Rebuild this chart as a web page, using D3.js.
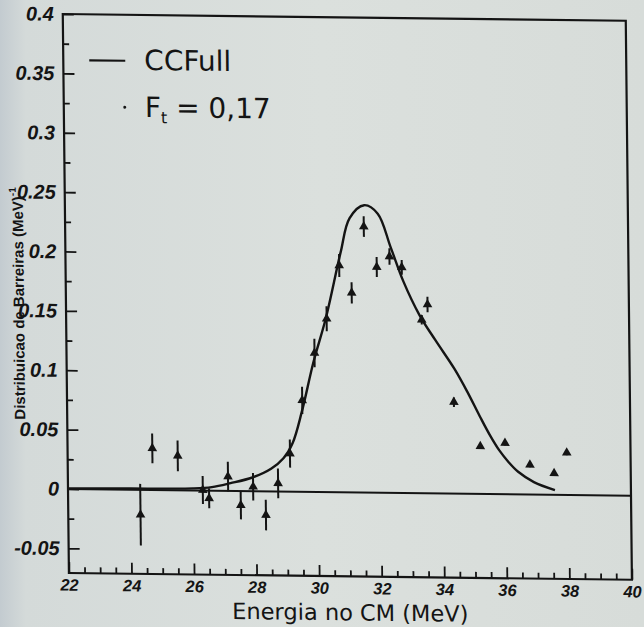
<!DOCTYPE html>
<html>
<head>
<meta charset="utf-8">
<script src="https://cdn.jsdelivr.net/npm/d3@7"></script>
<style>
  html, body { margin: 0; padding: 0; background: #d8dedb; }
  svg { display: block; }
</style>
</head>
<body>
<svg id="chart" width="644" height="627"></svg>
<script>
// Measured barrier distribution (energy in MeV, D(E) in MeV^-1, error)
const energy = [24.31, 24.71, 25.52, 26.31, 26.51, 27.12, 27.52, 27.92, 28.32, 28.72,
                29.11, 29.52, 29.93, 30.33, 30.75, 31.14, 31.55, 31.95, 32.36, 32.75,
                33.37, 33.56, 34.37, 35.20, 35.99, 36.78, 37.55, 37.96];
const dist   = [-0.021, 0.035, 0.029, 0.0004, -0.0065, 0.012, -0.012, 0.0037, -0.020, 0.0068,
                0.032, 0.077, 0.117, 0.146, 0.191, 0.168, 0.224, 0.190, 0.199, 0.190,
                0.146, 0.159, 0.077, 0.040, 0.043, 0.025, 0.018, 0.0355];
const distErr = [0.026, 0.0126, 0.0129, 0.0118, 0.0084, 0.0126, 0.0119, 0.0116, 0.0129, 0.0126,
                 0.0118, 0.0115, 0.012, 0.0105, 0.0097, 0.009, 0.0087, 0.0084, 0.007, 0.0063,
                 0.004, 0.0066, 0.004, 0.002, 0.002, 0.002, 0.002, 0.002];

// CCFull calculation (F_t = 0,17)
const ccfullE = [22, 23, 24, 25, 26, 26.6, 27.2, 27.9, 28.5, 28.9, 29.2, 29.5, 29.9, 30.3,
                 30.8, 31.1, 31.57, 32.0, 32.4, 32.8, 33.3, 33.8, 34.4, 34.8, 35.2, 35.5,
                 35.8, 36.1, 36.4, 36.9, 37.57];
const ccfullD = [0.0005, 0.0007, 0.001, 0.0012, 0.0017, 0.003, 0.0065, 0.0115, 0.019, 0.028,
                 0.041, 0.067, 0.11, 0.146, 0.202, 0.231, 0.242, 0.235, 0.207, 0.178, 0.150,
                 0.129, 0.105, 0.086, 0.065, 0.050, 0.037, 0.027, 0.019, 0.0105, 0.004];

// Axis ticks
const xTicks = [22, 24, 26, 28, 30, 32, 34, 36, 38, 40];
const yTicks = [-0.05, 0, 0.05, 0.1, 0.15, 0.2, 0.25, 0.3, 0.35, 0.4];
const yTickLabels = ["-0.05", "0", "0.05", "0.1", "0.15", "0.2", "0.25", "0.3", "0.35", "0.4"];

const svg = d3.select("#chart");
const ink = "#141414";

// paper tone, a little darker toward the left edge
const grad = svg.append("defs").append("linearGradient")
  .attr("id", "paper").attr("x1", 0).attr("x2", 1).attr("y1", 0).attr("y2", 0);
grad.append("stop").attr("offset", "0").attr("stop-color", "#c3cbd0");
grad.append("stop").attr("offset", "0.04").attr("stop-color", "#d4dad9");
grad.append("stop").attr("offset", "0.5").attr("stop-color", "#dbe0dd");
grad.append("stop").attr("offset", "1").attr("stop-color", "#d7dcd9");
svg.append("rect").attr("width", 644).attr("height", 627).attr("fill", "url(#paper)");

// the printed page is slightly skewed
const g = svg.append("g")
  .attr("transform", "matrix(1,0.012,0.011,1,-5.379,-0.816)");

const x = d3.scaleLinear().domain([22, 40]).range([68, 631]);
const y = d3.scaleLinear().domain([-0.0708, 0.4]).range([573, 14]);

const tickFont = "'Liberation Sans Narrow', 'Liberation Sans', Arial, sans-serif";

// minor ticks
const xMinor = d3.range(22, 40.001, 0.5).filter(v => !xTicks.includes(v));
const yMinor = d3.range(-0.05, 0.4001, 0.025).map(v => +v.toFixed(3))
  .filter(v => !yTicks.some(t => Math.abs(t - v) < 1e-9));

g.append("g")
  .attr("transform", `translate(0,${y(-0.0708)})`)
  .call(d3.axisBottom(x).tickValues(xMinor).tickSizeInner(-6).tickSizeOuter(0).tickFormat(""))
  .call(a => a.select(".domain").remove())
  .call(a => a.selectAll("line").attr("stroke", ink).attr("stroke-width", 1.8));

g.append("g")
  .attr("transform", `translate(${x(22)},0)`)
  .call(d3.axisLeft(y).tickValues(yMinor).tickSizeInner(-6).tickSizeOuter(0).tickFormat(""))
  .call(a => a.select(".domain").remove())
  .call(a => a.selectAll("line").attr("stroke", ink).attr("stroke-width", 1.8));

// major ticks with labels
g.append("g")
  .attr("transform", `translate(0,${y(-0.0708)})`)
  .call(d3.axisBottom(x).tickValues(xTicks).tickSizeInner(-11).tickSizeOuter(0)
        .tickPadding(6).tickFormat(d => String(d)))
  .call(a => a.select(".domain").remove())
  .call(a => a.selectAll("line").attr("stroke", ink).attr("stroke-width", 1.8))
  .call(a => a.selectAll("text")
      .attr("fill", ink)
      .attr("font-family", tickFont)
      .attr("font-style", "italic")
      .attr("font-weight", "bold")
      .attr("font-size", 16.5));

g.append("g")
  .attr("transform", `translate(${x(22)},0)`)
  .call(d3.axisLeft(y).tickValues(yTicks).tickSizeInner(-11).tickSizeOuter(0)
        .tickPadding(9).tickFormat((d, i) => yTickLabels[i]))
  .call(a => a.select(".domain").remove())
  .call(a => a.selectAll("line").attr("stroke", ink).attr("stroke-width", 1.8))
  .call(a => a.selectAll("text")
      .attr("fill", ink)
      .attr("font-family", tickFont)
      .attr("font-style", "italic")
      .attr("font-weight", "bold")
      .attr("font-size", 20));

// zero line
g.append("line")
  .attr("x1", x(22)).attr("x2", x(40))
  .attr("y1", y(0)).attr("y2", y(0))
  .attr("stroke", ink).attr("stroke-width", 2);

// CCFull curve
const line = d3.line()
  .x((d, i) => x(ccfullE[i]))
  .y(d => y(d))
  .curve(d3.curveCatmullRom.alpha(0.5));

g.append("path")
  .datum(ccfullD)
  .attr("d", line)
  .attr("fill", "none")
  .attr("stroke", ink)
  .attr("stroke-width", 2.4);

// error bars
const pts = energy.map((e, i) => ({ e, d: dist[i], s: distErr[i] }));
g.append("g").selectAll("line")
  .data(pts)
  .join("line")
  .attr("x1", p => x(p.e)).attr("x2", p => x(p.e))
  .attr("y1", p => y(p.d - p.s)).attr("y2", p => y(p.d + p.s))
  .attr("stroke", ink).attr("stroke-width", 2);

// triangle markers
const tri = d3.symbol().type(d3.symbolTriangle).size(40);
g.append("g").selectAll("path")
  .data(pts)
  .join("path")
  .attr("d", tri)
  .attr("transform", p => `translate(${x(p.e)},${y(p.d)})`)
  .attr("fill", ink);

// frame
g.append("rect")
  .attr("x", x(22)).attr("y", y(0.4))
  .attr("width", x(40) - x(22)).attr("height", y(-0.0708) - y(0.4))
  .attr("fill", "none").attr("stroke", ink).attr("stroke-width", 2.2);

// legend
const legendFont = "'DejaVu Sans', 'Liberation Sans', sans-serif";
g.append("line")
  .attr("x1", 94).attr("x2", 130).attr("y1", 60).attr("y2", 60)
  .attr("stroke", ink).attr("stroke-width", 2.2);
g.append("text")
  .attr("x", 149).attr("y", 69)
  .attr("font-family", legendFont).attr("font-size", 28).attr("fill", ink)
  .text("CCFull");
g.append("circle")
  .attr("cx", 129).attr("cy", 106.6).attr("r", 1.5).attr("fill", ink);
const ft = g.append("text")
  .attr("x", 149).attr("y", 116)
  .attr("font-family", legendFont).attr("font-size", 28).attr("fill", ink);
ft.append("tspan").text("F");
ft.append("tspan").attr("font-size", 16).attr("dy", 6).text("t");
ft.append("tspan").attr("dy", -6).text(" = 0,17");

// axis titles
g.append("text")
  .attr("x", 349).attr("y", 617)
  .attr("text-anchor", "middle")
  .attr("font-family", legendFont).attr("font-size", 22.5).attr("fill", ink)
  .text("Energia no CM (MeV)");

const yt = g.append("text")
  .attr("transform", "translate(26,304) rotate(-90)")
  .attr("text-anchor", "middle")
  .attr("font-family", "'Liberation Sans', Arial, sans-serif")
  .attr("font-weight", "bold").attr("font-size", 15).attr("fill", ink);
yt.append("tspan").text("Distribuicao de Barreiras (MeV)");
yt.append("tspan").attr("font-size", 10).attr("dy", -7).text("-1");
</script>
</body>
</html>
